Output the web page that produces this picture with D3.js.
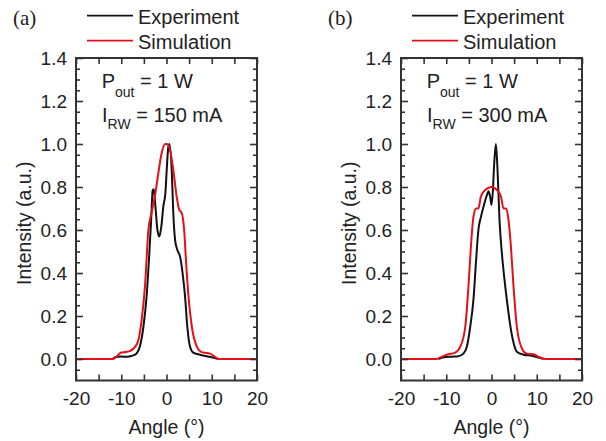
<!DOCTYPE html>
<html>
<head>
<meta charset="utf-8">
<script src="https://cdn.jsdelivr.net/npm/d3@7"></script>
<style>
    body { margin: 0; background: #fff; }
    svg { display: block; font-family: "Liberation Sans", Arial, Helvetica, sans-serif; }
</style>
</head>
<body>
<svg id="chart" width="606" height="441"></svg>
<script>
// (angle in degrees, intensity in a.u.)
const expA = [
    [-12, 0], [-11.3, 0.008], [-10, 0.012], [-9, 0.01], [-8, 0.013], [-7.2, 0.018], [-6.6, 0.026],
    [-5.9, 0.057], [-5.1, 0.15], [-4.4, 0.29], [-3.8, 0.49], [-3.4, 0.645], [-3.05, 0.785],
    [-2.8, 0.79], [-2.45, 0.71], [-2.0, 0.6], [-1.6, 0.57], [-1.15, 0.615], [-0.7, 0.71],
    [-0.25, 0.77], [0.05, 0.88], [0.4, 0.985], [0.65, 1.0], [1.15, 0.88], [1.5, 0.68],
    [1.9, 0.553], [2.4, 0.507], [3.0, 0.476], [3.55, 0.4], [4.1, 0.29], [4.6, 0.15],
    [5.2, 0.057], [5.9, 0.03], [7.4, 0.02], [9.6, 0.01], [10.7, 0.005], [11.5, 0]
];
const simA = [
    [-20, 0], [-11.8, 0], [-11, 0.012], [-10, 0.03], [-9, 0.033], [-8, 0.038], [-7, 0.055],
    [-6.2, 0.09], [-5.5, 0.18], [-4.75, 0.34], [-4, 0.6], [-3.3, 0.68], [-2.5, 0.765],
    [-1.8, 0.865], [-1.1, 0.955], [-0.3, 1.0], [0.1, 1.0], [0.8, 0.97], [1.5, 0.88],
    [2.25, 0.755], [2.8, 0.695], [3.35, 0.68], [3.9, 0.6], [4.3, 0.46], [4.8, 0.306],
    [5.6, 0.15], [6.7, 0.057], [7.5, 0.035], [8.1, 0.03], [9.6, 0.025], [10.7, 0.01],
    [11.5, 0], [20, 0]
];
const expB = [
    [-11.7, 0], [-10.5, 0.008], [-9, 0.011], [-7.5, 0.012], [-6.2, 0.025], [-5.45, 0.057],
    [-4.7, 0.15], [-4.0, 0.274], [-3.4, 0.46], [-2.9, 0.6], [-2.35, 0.66], [-1.77, 0.708],
    [-1.0, 0.763], [-0.66, 0.78], [-0.3, 0.755], [0, 0.716], [0.3, 0.78], [0.6, 0.91],
    [0.97, 1.0], [1.33, 0.88], [1.77, 0.646], [2.3, 0.49], [2.8, 0.383], [3.4, 0.274],
    [3.98, 0.18], [4.73, 0.088], [5.6, 0.034], [7.1, 0.02], [8.9, 0.015], [10.4, 0.007], [11.5, 0]
];
const simB = [
    [-20, 0], [-12.1, 0], [-11, 0.01], [-9.9, 0.02], [-8, 0.03], [-6.9, 0.057], [-5.8, 0.15],
    [-5.1, 0.336], [-4.56, 0.52], [-4.0, 0.66], [-3.4, 0.70], [-2.9, 0.70], [-2.35, 0.755],
    [-1.4, 0.786], [0, 0.80], [1.2, 0.786], [2.1, 0.755], [2.65, 0.70], [3.25, 0.70],
    [3.76, 0.646], [4.3, 0.52], [4.87, 0.336], [5.6, 0.15], [6.7, 0.05], [7.8, 0.025],
    [9.3, 0.022], [10.4, 0.01], [11.9, 0], [20, 0]
];

const xMajor = [-20, -10, 0, 10, 20];
const xMinor = [-15, -5, 5, 15];
const yMajor = [0, 0.2, 0.4, 0.6, 0.8, 1.0, 1.2, 1.4];
const seriesNames = ["Experiment", "Simulation"];
const seriesColors = ["#111111", "#e3101a"];
const panelTags = ["(a)", "(b)"];
const currents = ["150 mA", "300 mA"];

const svg = d3.select("#chart");
const top_ = 58, bottom = 380.5, boxW = 181;
const panels = [
    { left: 76, tagX: 13, exp: expA, sim: simA },
    { left: 401, tagX: 328, exp: expB, sim: simB }
];

const y = d3.scaleLinear().domain([-0.1, 1.4]).range([bottom, top_]);
const yMinor = d3.range(-0.05, 1.4, 0.05).filter(v => Math.abs(Math.round(v * 5) - v * 5) > 0.01);

const drawPanel = (p, i) => {
    const x = d3.scaleLinear().domain([-20, 20]).range([p.left, p.left + boxW]);
    const g = svg.append("g");
    const axisColor = "#333";

    const line = d3
        .line()
        .x(d => x(d[0]))
        .y(d => y(d[1]))
        .curve(d3.curveMonotoneX);

    // curves
    g.append("path")
        .attr("d", line(p.exp))
        .attr("fill", "none")
        .attr("stroke", seriesColors[0])
        .attr("stroke-width", 2);
    g.append("path")
        .attr("d", line(p.sim))
        .attr("fill", "none")
        .attr("stroke", seriesColors[1])
        .attr("stroke-width", 2);

    const styleAxis = a => {
        a.select(".domain").remove();
        a.selectAll("line").attr("stroke", axisColor).attr("stroke-width", 1.6);
        a.selectAll("text").attr("fill", "#222").style("font-size", "19px").style("font-family", "inherit");
    };

    // x axes: bottom with labels, top without
    g.append("g")
        .attr("transform", `translate(0,${bottom})`)
        .call(d3.axisBottom(x).tickValues(xMajor).tickSize(-6).tickPadding(11).tickFormat(d => String(d)))
        .call(styleAxis);
    g.append("g")
        .attr("transform", `translate(0,${bottom})`)
        .call(d3.axisBottom(x).tickValues(xMinor).tickSize(-6).tickFormat(""))
        .call(styleAxis);
    g.append("g")
        .attr("transform", `translate(0,${top_})`)
        .call(d3.axisTop(x).tickValues(xMajor.concat(xMinor)).tickSize(-6).tickFormat(""))
        .call(styleAxis);

    // y axes
    g.append("g")
        .attr("transform", `translate(${p.left},0)`)
        .call(d3.axisLeft(y).tickValues(yMajor).tickSize(-7).tickPadding(9).tickFormat(d3.format(".1f")))
        .call(styleAxis);
    g.append("g")
        .attr("transform", `translate(${p.left},0)`)
        .call(d3.axisLeft(y).tickValues(yMinor).tickSize(-4).tickFormat(""))
        .call(styleAxis);
    g.append("g")
        .attr("transform", `translate(${p.left + boxW},0)`)
        .call(d3.axisRight(y).tickValues(yMajor).tickSize(-7).tickFormat(""))
        .call(styleAxis);
    g.append("g")
        .attr("transform", `translate(${p.left + boxW},0)`)
        .call(d3.axisRight(y).tickValues(yMinor).tickSize(-4).tickFormat(""))
        .call(styleAxis);

    // frame
    g.append("rect")
        .attr("x", p.left)
        .attr("y", top_)
        .attr("width", boxW)
        .attr("height", bottom - top_)
        .attr("fill", "none")
        .attr("stroke", axisColor)
        .attr("stroke-width", 2);

    // axis titles
    g.append("text")
        .attr("x", p.left + boxW / 2)
        .attr("y", 434)
        .attr("text-anchor", "middle")
        .style("font-size", "19.5px")
        .attr("fill", "#222")
        .text("Angle (°)");
    g.append("text")
        .attr("transform", `translate(${p.left - 45},${(top_ + bottom) / 2 + 4}) rotate(-90)`)
        .attr("text-anchor", "middle")
        .style("font-size", "19.5px")
        .attr("fill", "#222")
        .text("Intensity (a.u.)");

    // panel tag
    g.append("text")
        .attr("x", p.tagX)
        .attr("y", 25)
        .style("font-family", "'Liberation Serif', 'Times New Roman', serif")
        .style("font-size", "21px")
        .attr("fill", "#222")
        .text(panelTags[i]);

    // legend
    seriesNames.forEach((name, k) => {
        const ly = 15.7 + k * 25;
        g.append("line")
            .attr("x1", p.left + 11)
            .attr("x2", p.left + 57)
            .attr("y1", ly)
            .attr("y2", ly)
            .attr("stroke", seriesColors[k])
            .attr("stroke-width", 1.8);
        g.append("text")
            .attr("x", p.left + 62)
            .attr("y", ly + 8.3)
            .style("font-size", "20px")
            .attr("fill", "#222")
            .text(name);
    });

    // annotation
    const t1 = g.append("text")
        .attr("x", p.left + 25.7)
        .attr("y", 88.3)
        .style("font-size", "20px")
        .attr("fill", "#222");
    t1.append("tspan").text("P");
    t1.append("tspan").attr("dy", 8.4).style("font-size", "14px").text("out");
    t1.append("tspan").attr("dy", -8.4).text(" = 1 W");

    const t2 = g.append("text")
        .attr("x", p.left + 26)
        .attr("y", 121.7)
        .style("font-size", "20px")
        .attr("fill", "#222");
    t2.append("tspan").text("I");
    t2.append("tspan").attr("dy", 7.5).style("font-size", "14px").text("RW");
    t2.append("tspan").attr("dy", -7.5).text(" = " + currents[i]);
};

panels.forEach(drawPanel);
</script>
</body>
</html>
